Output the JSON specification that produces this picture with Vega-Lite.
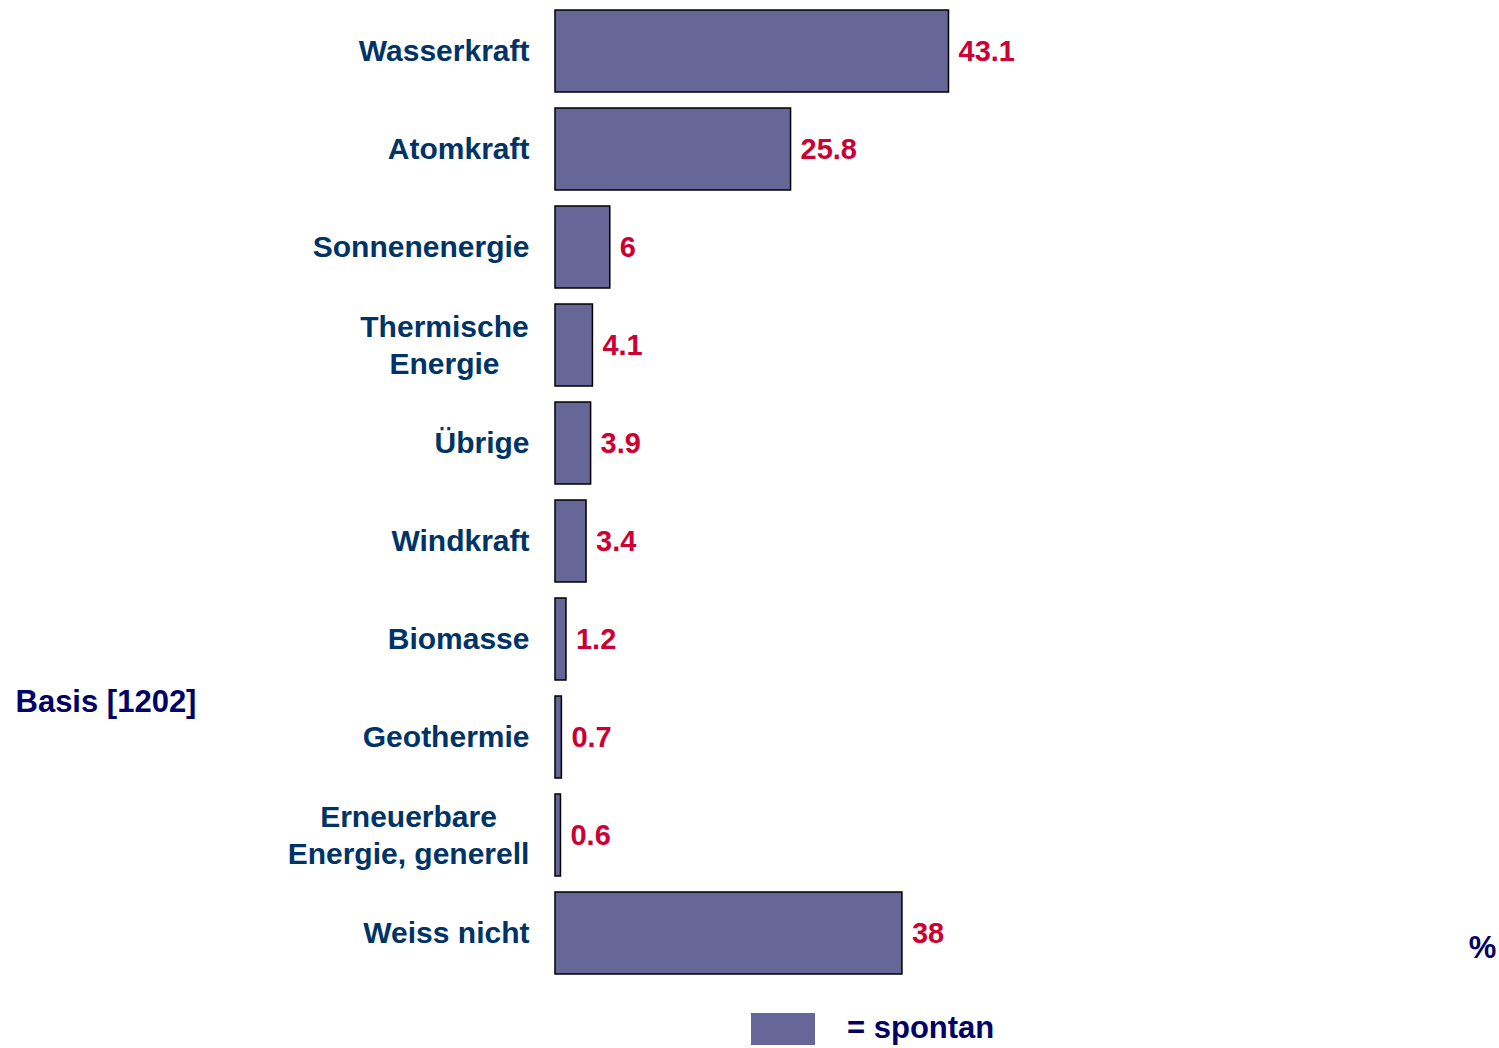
{
  "$schema": "https://vega.github.io/schema/vega-lite/v6.json",
  "autosize": "none",
  "width": 913,
  "height": 980,
  "padding": {"left": 555, "top": 2, "right": 31, "bottom": 66},
  "background": "white",
  "config": {"view": {"stroke": null}, "font": "Liberation Sans"},
  "data": {
    "values": [
      {"cat": "Wasserkraft", "value": 43.1, "series": "spontan"},
      {"cat": "Atomkraft", "value": 25.8, "series": "spontan"},
      {"cat": "Sonnenenergie", "value": 6, "series": "spontan"},
      {"cat": "Thermische|Energie", "value": 4.1, "series": "spontan"},
      {"cat": "Übrige", "value": 3.9, "series": "spontan"},
      {"cat": "Windkraft", "value": 3.4, "series": "spontan"},
      {"cat": "Biomasse", "value": 1.2, "series": "spontan"},
      {"cat": "Geothermie", "value": 0.7, "series": "spontan"},
      {"cat": "Erneuerbare|Energie, generell", "value": 0.6, "series": "spontan"},
      {"cat": "Weiss nicht", "value": 38, "series": "spontan"}
    ]
  },
  "encoding": {
    "y": {
      "field": "cat",
      "type": "nominal",
      "sort": null,
      "scale": {"paddingInner": 0.163, "paddingOuter": 0.082},
      "axis": {
        "title": "Basis [1202]",
        "titleAngle": 0,
        "titleAlign": "left",
        "titleBaseline": "alphabetic",
        "titleX": -540,
        "titleY": 709,
        "titleFont": "Liberation Sans",
        "titleFontSize": 31,
        "titleFontWeight": "bold",
        "titleColor": "#000066",
        "domain": false,
        "ticks": false,
        "grid": false,
        "labelExpr": "split(datum.label, '|')",
        "labelFont": "Liberation Sans",
        "labelFontSize": 30,
        "labelFontWeight": "bold",
        "labelColor": "#003366",
        "labelLineHeight": 37,
        "labelLimit": 0,
        "labelAlign": {
          "condition": {"test": "indexof(datum.value, '|') >= 0", "value": "center"},
          "value": "right"
        },
        "labelOffset": {
          "condition": {"test": "indexof(datum.value, '|') >= 0", "value": -17},
          "value": 1
        },
        "labelPadding": {
          "condition": [
            {"test": "datum.value == 'Thermische|Energie'", "value": 111},
            {"test": "datum.value == 'Erneuerbare|Energie, generell'", "value": 147}
          ],
          "value": 26
        }
      }
    }
  },
  "layer": [
    {
      "mark": {"type": "bar", "stroke": "black", "strokeWidth": 1.5},
      "encoding": {
        "x": {
          "field": "value",
          "type": "quantitative",
          "scale": {"domain": [0, 100]},
          "axis": {
            "title": "%",
            "labels": false,
            "ticks": false,
            "domain": false,
            "grid": false,
            "titleAnchor": "start",
            "titleAlign": "center",
            "titleBaseline": "alphabetic",
            "titleX": 927,
            "titleY": -25,
            "titleFont": "Liberation Sans",
            "titleFontSize": 31,
            "titleFontWeight": "bold",
            "titleColor": "#000066"
          }
        },
        "color": {
          "field": "series",
          "type": "nominal",
          "scale": {"range": ["#666699"]},
          "legend": {
            "title": null,
            "orient": "none",
            "legendX": 196,
            "legendY": 995,
            "padding": 0,
            "symbolType": "M-1,-0.5H1V0.5H-1Z",
            "symbolSize": 4096,
            "symbolStrokeWidth": 0,
            "symbolOpacity": 1,
            "labelOffset": 32,
            "labelExpr": "'= ' + datum.label",
            "labelFont": "Liberation Sans",
            "labelFontSize": 31,
            "labelFontWeight": "bold",
            "labelColor": "#000066"
          }
        }
      }
    },
    {
      "mark": {"type": "text", "align": "left", "baseline": "middle", "dx": 10, "dy": 1, "font": "Liberation Sans", "fontSize": 29, "fontWeight": "bold", "color": "#CC0033"},
      "encoding": {
        "x": {"field": "value", "type": "quantitative"},
        "text": {"field": "value", "type": "nominal"}
      }
    }
  ]
}
